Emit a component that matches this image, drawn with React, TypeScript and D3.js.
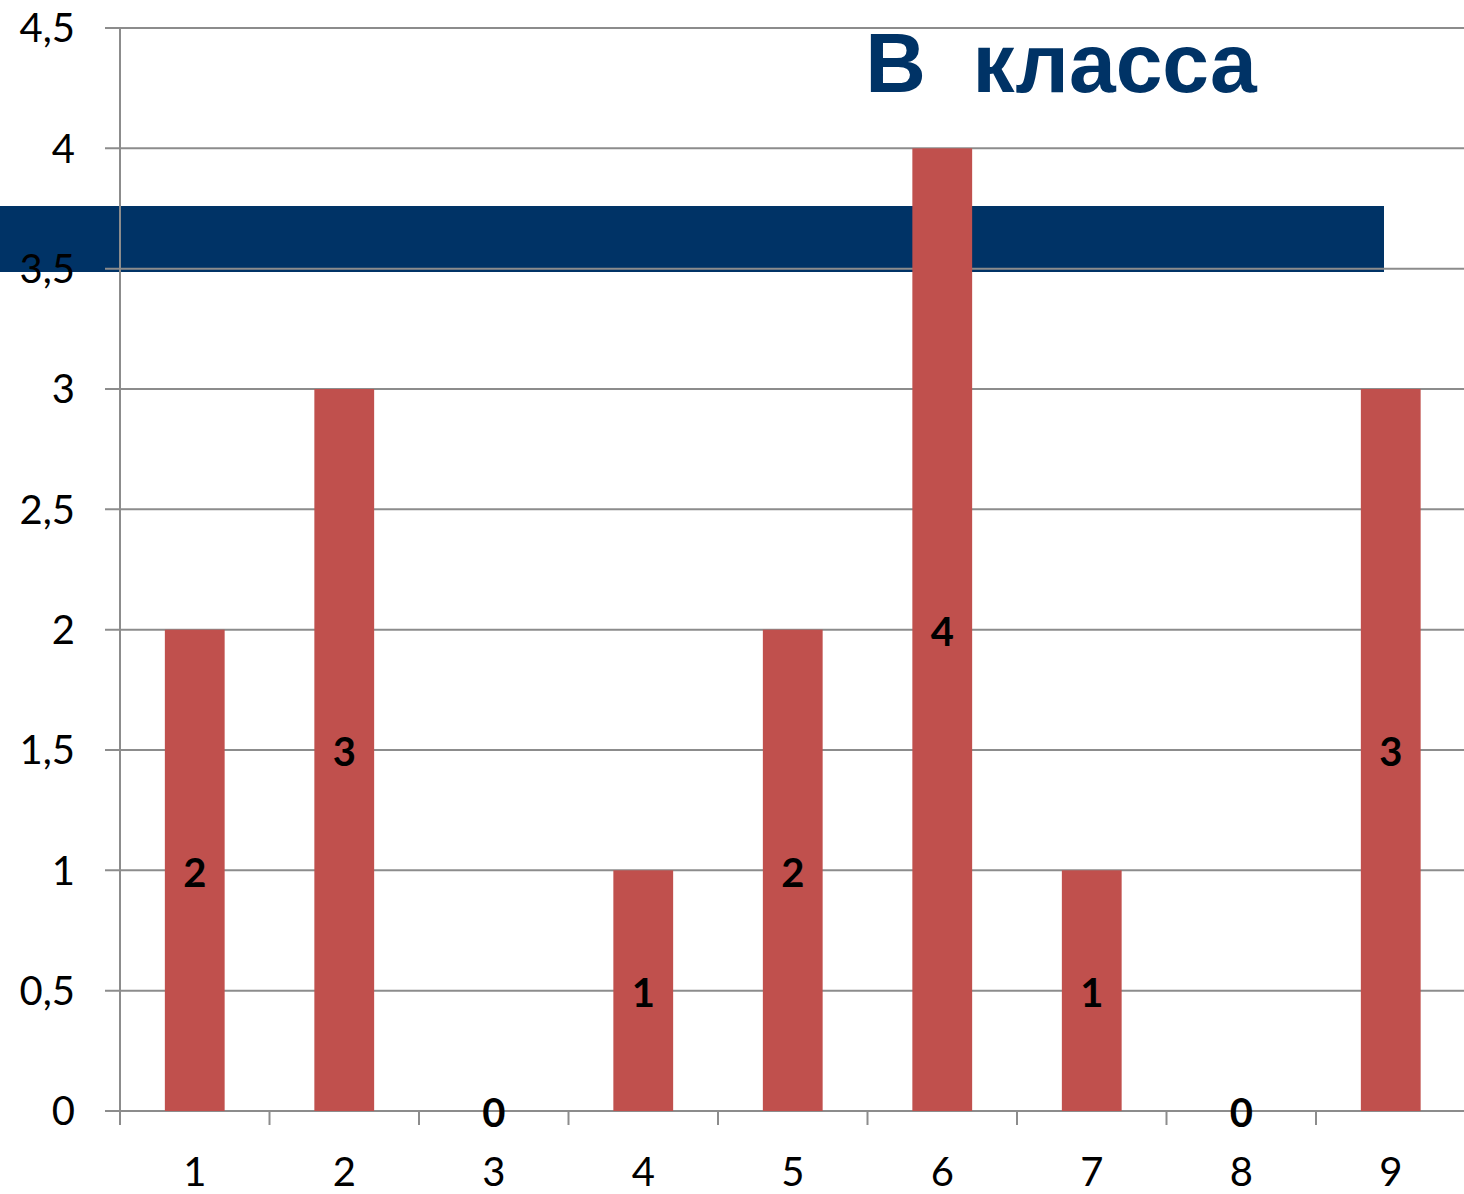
import React, { useEffect, useRef } from 'react';
import * as d3 from 'd3';

const categories = ['1', '2', '3', '4', '5', '6', '7', '8', '9'];
const values = [2, 3, 0, 1, 2, 4, 1, 0, 3];
const yTicks = [0, 0.5, 1, 1.5, 2, 2.5, 3, 3.5, 4, 4.5];
const titleText = 'В  класса';

const App: React.FC = () => {
  const svgRef = useRef<SVGSVGElement>(null);

  useEffect(() => {
    if (!svgRef.current) return;
    const svg = d3.select(svgRef.current);
    svg.selectAll('*').remove();

    const width = 1464;
    const left = 120;
    const top = 28;
    const bottom = 1111;
    const fmt = (v: number) => String(v).replace('.', ',');

    const y = d3.scaleLinear().domain([0, 4.5]).range([bottom, top]);
    const x = d3.scaleBand<string>()
      .domain(categories)
      .range([left, left + 149.5 * 9])
      .paddingInner(0.6)
      .paddingOuter(0.3);
    const step = x.step();

    // dark band behind the chart
    svg.append('rect')
      .attr('x', 0).attr('y', 206)
      .attr('width', 1384).attr('height', 66)
      .attr('fill', '#003366');

    // gridlines + y ticks
    svg.append('g').selectAll('line')
      .data(yTicks)
      .enter().append('line')
      .attr('x1', left - 15).attr('x2', width)
      .attr('y1', d => y(d)).attr('y2', d => y(d))
      .attr('stroke', '#8c8c8c').attr('stroke-width', 2);

    svg.append('g').selectAll('text')
      .data(yTicks)
      .enter().append('text')
      .attr('x', 75).attr('y', d => y(d))
      .attr('dy', '0.36em')
      .attr('text-anchor', 'end')
      .style('font-family', 'Lato, "Open Sans", sans-serif')
      .style('font-size', '40px')
      .attr('fill', '#000')
      .text(d => fmt(d));

    // y axis line
    svg.append('line')
      .attr('x1', left).attr('x2', left)
      .attr('y1', top).attr('y2', bottom + 14)
      .attr('stroke', '#8c8c8c').attr('stroke-width', 2);

    // x ticks at band boundaries
    const bounds = d3.range(categories.length + 1).map(i => left + i * step);
    svg.append('g').selectAll('line')
      .data(bounds)
      .enter().append('line')
      .attr('x1', d => d).attr('x2', d => d)
      .attr('y1', bottom).attr('y2', bottom + 14)
      .attr('stroke', '#8c8c8c').attr('stroke-width', 2);

    svg.append('g').selectAll('text')
      .data(categories)
      .enter().append('text')
      .attr('x', d => (x(d) || 0) + x.bandwidth() / 2)
      .attr('y', 1172)
      .attr('dy', '0.34em')
      .attr('text-anchor', 'middle')
      .style('font-family', 'Lato, "Open Sans", sans-serif')
      .style('font-size', '40px')
      .attr('fill', '#000')
      .text(d => d);

    // bars
    svg.append('g').selectAll('rect')
      .data(values)
      .enter().append('rect')
      .attr('x', (d, i) => x(categories[i]) || 0)
      .attr('width', x.bandwidth())
      .attr('y', d => y(d))
      .attr('height', d => bottom - y(d))
      .attr('fill', '#c0504d');

    // data labels
    svg.append('g').selectAll('text')
      .data(values)
      .enter().append('text')
      .attr('x', (d, i) => (x(categories[i]) || 0) + x.bandwidth() / 2)
      .attr('y', d => y(d / 2) + 2)
      .attr('dy', '0.36em')
      .attr('text-anchor', 'middle')
      .style('font-family', 'Lato, "Open Sans", sans-serif')
      .style('font-size', '40px')
      .style('font-weight', 'bold')
      .attr('fill', '#000')
      .text(d => String(d));

    // title
    svg.append('text')
      .attr('x', 1061).attr('y', 92)
      .attr('text-anchor', 'middle')
      .attr('xml:space', 'preserve')
      .style('white-space', 'pre')
      .style('font-family', '"Liberation Sans", Arial, sans-serif')
      .style('font-size', '84px')
      .style('font-weight', 'bold')
      .attr('fill', '#003366')
      .text(titleText);
  }, []);

  return (
    <svg
      ref={svgRef}
      width={1464}
      height={1194}
      style={{ position: 'absolute', left: 0, top: 0, background: '#fff' }}
    />
  );
};

export default App;
